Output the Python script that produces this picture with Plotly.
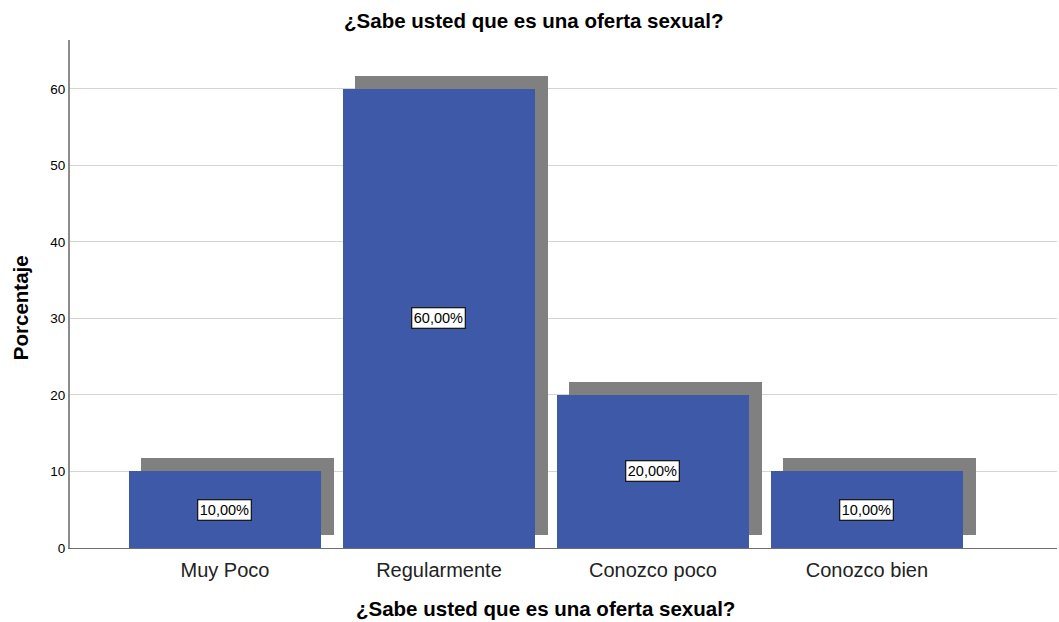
import plotly.graph_objects as go

# chart data
categorias = ["Muy Poco", "Regularmente", "Conozco poco", "Conozco bien"]
porcentajes = [10, 60, 20, 10]
etiquetas = ["10,00%", "60,00%", "20,00%", "10,00%"]
titulo = "¿Sabe usted que es una oferta sexual?"

azul = "#3E59A8"
gris = "#808080"
ancho = 0.9
desp_x = 0.058   # shadow shift to the right (category units)
desp_y = 1.7     # shadow lift (percentage units)

fig = go.Figure()

# gray "3D" shadow behind each bar
fig.add_trace(go.Bar(
    x=categorias,
    y=porcentajes,
    base=[desp_y] * len(porcentajes),
    width=ancho,
    offset=-ancho / 2 + desp_x,
    marker=dict(color=gris, line=dict(width=0)),
    hoverinfo="skip",
    showlegend=False,
))

# main bars
fig.add_trace(go.Bar(
    x=categorias,
    y=porcentajes,
    width=ancho,
    offset=-ancho / 2,
    marker=dict(color=azul, line=dict(width=0)),
    showlegend=False,
))

# boxed value labels
for cat, val, txt in zip(categorias, porcentajes, etiquetas):
    fig.add_annotation(
        x=cat, y=val / 2, text=txt, showarrow=False,
        font=dict(family="Liberation Sans, Arial", size=14.5, color="#000000"),
        bgcolor="white", bordercolor="#1A1A1A", borderwidth=1.3, borderpad=1.5,
    )

# axis titles as annotations (SPSS places them off-centre)
fig.add_annotation(
    text="<b>" + titulo + "</b>", xref="paper", yref="paper",
    x=0.482, y=-0.120, xanchor="center", yanchor="middle", showarrow=False,
    font=dict(size=20.5),
)
fig.add_annotation(
    text="<b>Porcentaje</b>", xref="paper", yref="paper",
    x=-0.0507, y=0.474, xanchor="center", yanchor="middle", showarrow=False,
    textangle=-90, font=dict(size=20.5),
)

fig.update_layout(
    width=1059, height=622,
    margin=dict(l=70, r=2, t=40, b=74),
    paper_bgcolor="white",
    plot_bgcolor="white",
    barmode="overlay",
    bargap=0,
    font=dict(family="Liberation Sans, Arial", color="#000000"),
    title=dict(
        text="<b>" + titulo + "</b>",
        x=0.504, xanchor="center", y=0.967, yanchor="middle",
        font=dict(size=20.5),
    ),
)

fig.update_xaxes(
    range=[-0.724, 3.888],
    showgrid=False,
    showline=True, linecolor="#6E6E6E", linewidth=1,
    ticks="", ticklabelstandoff=4,
    tickfont=dict(size=20, color="#222222"),
)

fig.update_yaxes(
    range=[0, 66.4],
    tickvals=[0, 10, 20, 30, 40, 50, 60],
    showgrid=True, gridcolor="#D4D4D4", gridwidth=1,
    zeroline=False,
    showline=True, linecolor="#8C8C8C", linewidth=2,
    ticks="", tickfont=dict(size=13.5, color="#000000"),
)

fig.write_html("out.html", config={"displayModeBar": False},
               post_script="document.body.style.margin='0';")
